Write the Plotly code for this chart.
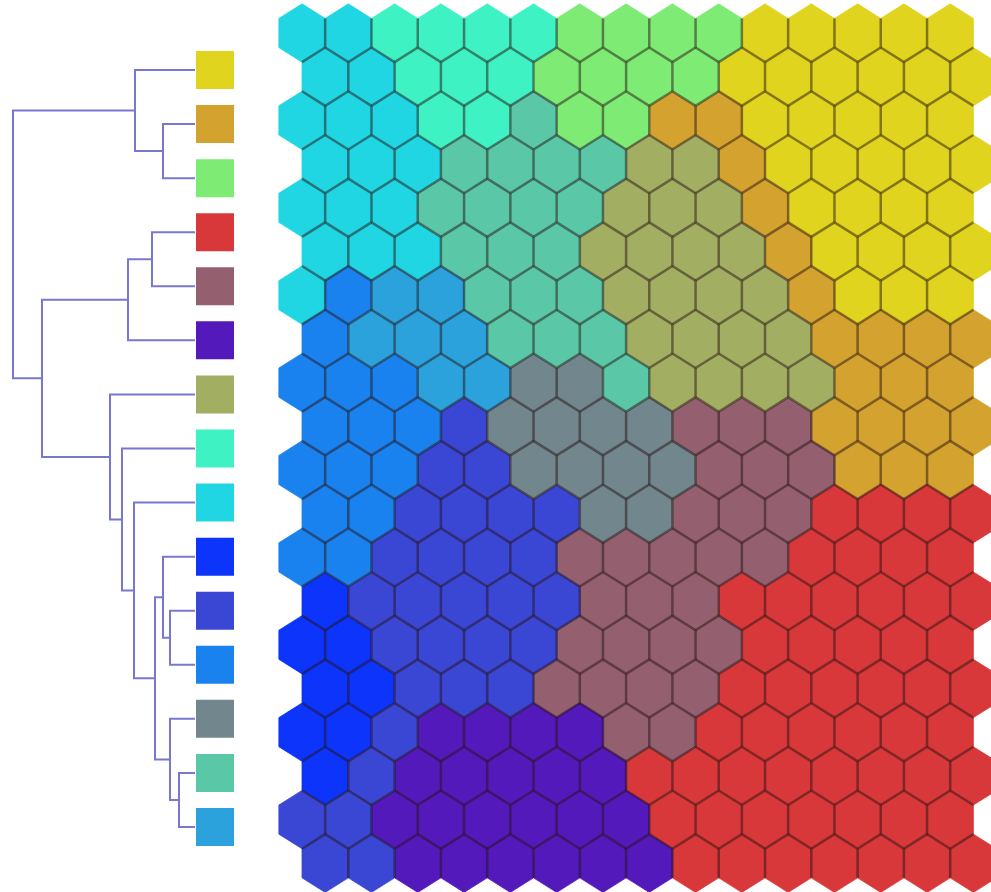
import plotly.graph_objects as go

# ---- cluster palette (code -> colour) ----
cluster_colors = {
    "Y": "#E0D41E",  # yellow
    "O": "#D4A22E",  # ochre
    "G": "#7EEC74",  # light green
    "E": "#D8383A",  # red
    "V": "#946070",  # mauve
    "P": "#5419BA",  # purple
    "L": "#A2AE62",  # olive
    "A": "#3EF2C4",  # aquamarine
    "C": "#20D6E2",  # cyan
    "B": "#0C34FA",  # bright blue
    "R": "#3A46D4",  # royal blue
    "D": "#1A82EE",  # dodger blue
    "T": "#72868E",  # slate grey
    "M": "#5AC8A6",  # sea green
    "S": "#2CA2DC",  # steel blue
}

# ---- dendrogram leaves, top to bottom ----
leaf_codes = ["Y", "O", "G", "E", "V", "P", "L", "A", "C", "B", "R", "D", "T", "M", "S"]

# merges: (child_a, child_b, height); ids >= 15 refer to earlier merges
merges = [
    (1, 2, 32),
    (0, 15, 60),
    (3, 4, 43),
    (17, 5, 67),
    (10, 11, 25),
    (9, 19, 32),
    (13, 14, 16),
    (12, 21, 25),
    (20, 22, 40),
    (8, 23, 61),
    (7, 24, 73),
    (6, 25, 85),
    (18, 26, 153),
    (16, 27, 182),
]

# ---- SOM map: cluster code for every unit, row by row (odd rows shifted) ----
som_rows = [
    "CCAAAAGGGGYYYYY",
    "CCAAAGGGGYYYYYY",
    "CCCAAMGGOOYYYYY",
    "CCCMMMMLLOYYYYY",
    "CCCMMMMLLLOYYYY",
    "CCCMMMLLLLOYYYY",
    "CDSSMMMLLLLOYYY",
    "DSSSMMMLLLLOOOO",
    "DDDSSTTMLLLLOOO",
    "DDDRTTTTVVVOOOO",
    "DDDRRTTTTVVVOOO",
    "DDRRRRTTVVVEEEE",
    "DDRRRRVVVVVEEEE",
    "BRRRRRVVVEEEEEE",
    "BBRRRRVVVVEEEEE",
    "BBRRRVVVVEEEEEE",
    "BBRPPPPVVEEEEEE",
    "BRPPPPPEEEEEEEE",
    "RRPPPPPPEEEEEEE",
    "RRPPPPPPEEEEEEE",
]

n_rows = len(som_rows)
n_cols = len(som_rows[0])

fig = go.Figure()


def hex_vertices(xc, yc):
    """Pointy-top hexagon in grid units: top, upper-right, lower-right,
    bottom, lower-left, upper-left."""
    return [(xc, yc - 2 / 3), (xc + 0.5, yc - 1 / 3), (xc + 0.5, yc + 1 / 3),
            (xc, yc + 2 / 3), (xc - 0.5, yc + 1 / 3), (xc - 0.5, yc - 1 / 3)]


def unit_x(r, c):
    return c + 0.5 * (r % 2)


# filled hexagons, one trace per cluster
for code, color in cluster_colors.items():
    xs, ys = [], []
    for r, row in enumerate(som_rows):
        for c, k in enumerate(row):
            if k != code:
                continue
            v = hex_vertices(unit_x(r, c), r)
            v.append(v[0])
            xs += [p[0] for p in v] + [None]
            ys += [p[1] for p in v] + [None]
    if xs:
        fig.add_trace(go.Scatter(
            x=xs, y=ys, mode="lines", fill="toself", fillcolor=color,
            line=dict(color=color, width=0.8),
            xaxis="x2", yaxis="y2", hoverinfo="skip"))

# shared borders between neighbouring units only (outer rim left open)
bx, by = [], []
for r in range(n_rows):
    for c in range(n_cols):
        xc = unit_x(r, c)
        v = hex_vertices(xc, r)
        # right neighbour in the same row
        if c + 1 < n_cols:
            bx += [v[1][0], v[2][0], None]
            by += [v[1][1], v[2][1], None]
        if r + 1 < n_rows:
            off = 0.5 * ((r + 1) % 2)
            # lower-right neighbour
            cn = xc + 0.5 - off
            if 0 <= cn < n_cols:
                bx += [v[2][0], v[3][0], None]
                by += [v[2][1], v[3][1], None]
            # lower-left neighbour
            cn = xc - 0.5 - off
            if 0 <= cn < n_cols:
                bx += [v[3][0], v[4][0], None]
                by += [v[3][1], v[4][1], None]

fig.add_trace(go.Scatter(
    x=bx, y=by, mode="lines",
    line=dict(color="rgba(40,20,20,0.5)", width=2.5),
    xaxis="x2", yaxis="y2", hoverinfo="skip"))

# ---- dendrogram ----
n_leaves = len(leaf_codes)
node_y = {i: float(i) for i in range(n_leaves)}
node_h = {i: 0.0 for i in range(n_leaves)}
dx, dy = [], []
for j, (a, b, h) in enumerate(merges):
    nid = n_leaves + j
    dx += [node_h[a], h, h, node_h[b], None]
    dy += [node_y[a], node_y[a], node_y[b], node_y[b], None]
    node_y[nid] = (node_y[a] + node_y[b]) / 2
    node_h[nid] = h

fig.add_trace(go.Scatter(
    x=dx, y=dy, mode="lines",
    line=dict(color="#7878D2", width=2),
    hoverinfo="skip"))

# coloured leaf squares
fig.add_trace(go.Scatter(
    x=[-20] * n_leaves, y=list(range(n_leaves)), mode="markers",
    marker=dict(symbol="square", size=38,
                color=[cluster_colors[k] for k in leaf_codes],
                line=dict(width=0)),
    hoverinfo="skip"))

fig.update_layout(
    width=991, height=892,
    margin=dict(l=0, r=0, t=0, b=0),
    paper_bgcolor="white", plot_bgcolor="white",
    showlegend=False,
    xaxis=dict(range=[195, -796], visible=False, domain=[0, 1]),
    yaxis=dict(range=[15.2025, -1.2946], visible=False, domain=[0, 1]),
    xaxis2=dict(range=[-6.523, 14.881], visible=False, overlaying="x",
                domain=[0, 1]),
    yaxis2=dict(range=[19.657, -0.755], visible=False, overlaying="y",
                anchor="x2", domain=[0, 1]),
)

fig.write_html("out.html")
